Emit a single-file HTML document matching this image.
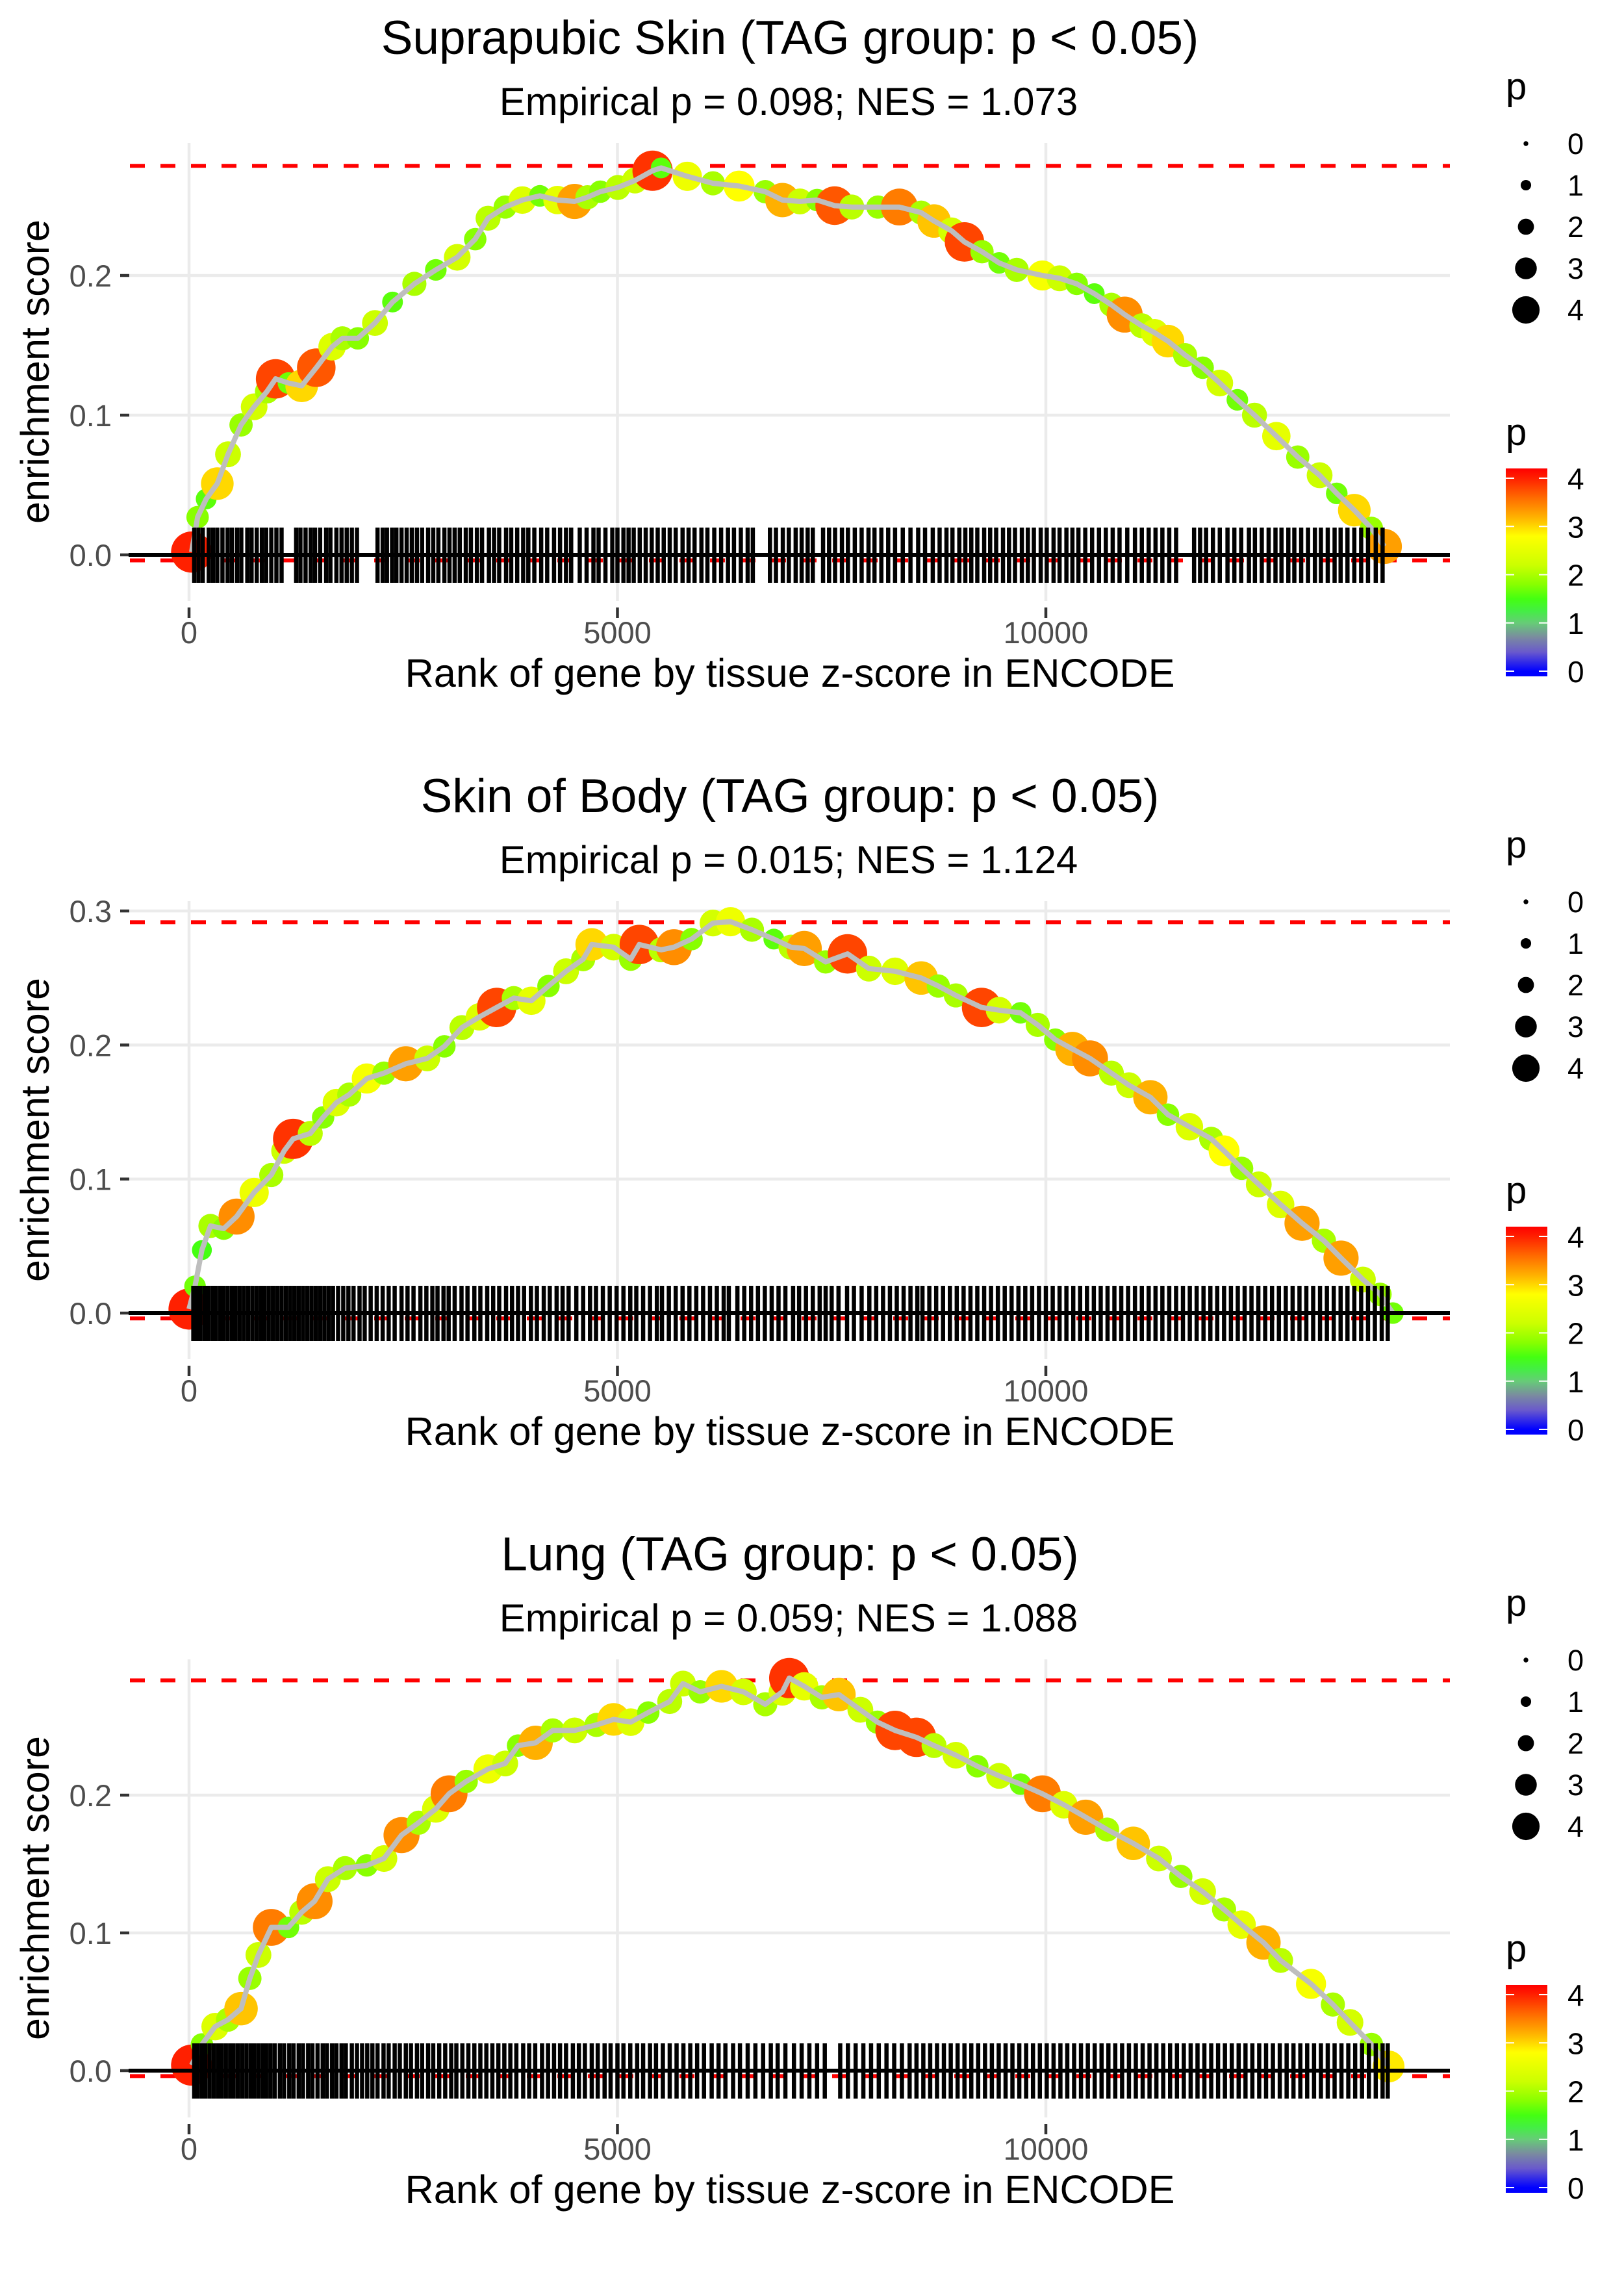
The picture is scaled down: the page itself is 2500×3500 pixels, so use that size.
<!DOCTYPE html>
<html><head><meta charset="utf-8"><title>Enrichment plots</title>
<style>html,body{margin:0;padding:0;background:#fff}svg{display:block}text{font-family:"Liberation Sans",Arial,sans-serif}</style>
</head><body>
<svg id="chart" xmlns="http://www.w3.org/2000/svg" width="2500" height="3500" viewBox="0 0 2500 3500"></svg>
<script>
// ---------- data ----------
const xTickValues = [0, 5000, 10000];
const xTickLabels = ["0", "5000", "10000"];
const legendSizeValues = [0, 1, 2, 3, 4];
const colorbarValues = [0, 1, 2, 3, 4];

const titles = ["Suprapubic Skin (TAG group: p < 0.05)", "Skin of Body (TAG group: p < 0.05)", "Lung (TAG group: p < 0.05)"];
const subtitles = ["Empirical p = 0.098; NES = 1.073", "Empirical p = 0.015; NES = 1.124", "Empirical p = 0.059; NES = 1.088"];
const maxES = [0.2785, 0.2916, 0.2833];
const minES = [-0.003, -0.003, -0.003];
const yTicks1 = [0.0, 0.1, 0.2];
const yTicks2 = [0.0, 0.1, 0.2, 0.3];
const yTicks3 = [0.0, 0.1, 0.2];

const ranks1 = [30,100,200,330,455,607,760,910,1010,1160,1315,1485,1670,1790,1970,2170,2375,2630,2880,3130,3340,3490,3690,3890,4095,4300,4500,4650,4800,5005,5205,5410,5510,5815,6115,6420,6725,6925,7130,7330,7535,7735,8040,8290,8545,8695,8900,9050,9255,9455,9660,9960,10160,10360,10565,10765,10920,11120,11270,11425,11625,11830,12030,12235,12435,12690,12940,13195,13395,13600,13800,13950];
const es1 = [0.002,0.027,0.040,0.051,0.072,0.093,0.106,0.117,0.126,0.123,0.121,0.134,0.149,0.155,0.155,0.166,0.181,0.194,0.204,0.213,0.226,0.241,0.249,0.254,0.257,0.254,0.253,0.256,0.260,0.263,0.268,0.275,0.277,0.271,0.266,0.264,0.260,0.254,0.253,0.254,0.250,0.249,0.249,0.249,0.245,0.239,0.232,0.224,0.217,0.209,0.204,0.200,0.198,0.194,0.187,0.179,0.172,0.164,0.159,0.153,0.143,0.134,0.123,0.111,0.100,0.085,0.070,0.057,0.044,0.032,0.019,0.006];
const pv1 = [4.0,1.8,1.6,3.0,2.2,1.9,2.3,2.0,3.8,1.7,3.0,3.7,2.4,2.0,1.8,2.2,1.6,2.0,1.7,2.3,1.8,2.1,1.9,2.4,1.7,2.5,3.3,2.0,1.8,2.1,2.2,3.9,1.6,2.6,2.0,2.8,1.9,3.2,2.2,1.8,3.7,2.1,1.9,3.5,2.0,3.1,2.3,3.8,1.9,1.7,2.0,2.7,2.2,1.8,1.6,2.0,3.4,2.1,2.4,3.0,2.0,1.8,2.3,1.7,2.1,2.5,1.9,2.2,1.7,3.0,1.9,3.3];
const rug1 = [60,110,160,230,280,330,390,450,500,560,610,680,730,790,850,900,960,1020,1080,1250,1300,1360,1420,1470,1530,1600,1650,1720,1780,1840,1900,1960,2200,2260,2310,2370,2420,2480,2540,2600,2660,2720,2790,2850,2910,2980,3040,3100,3160,3230,3290,3360,3420,3500,3560,3620,3700,3760,3830,3900,3960,4030,4110,4180,4260,4330,4400,4460,4560,4640,4720,4780,4860,4940,5000,5070,5130,5190,5260,5330,5400,5470,5540,5610,5680,5760,5830,5900,5980,6050,6130,6210,6290,6360,6440,6520,6580,6780,6850,6930,7000,7080,7150,7220,7280,7400,7470,7540,7620,7690,7770,7850,7930,8000,8080,8160,8240,8330,8420,8510,8590,8680,8760,8840,8910,8990,9060,9130,9200,9280,9350,9420,9500,9570,9640,9720,9790,9860,9940,10010,10090,10160,10240,10310,10380,10460,10540,10620,10700,10780,10860,10950,11040,11120,11200,11280,11360,11440,11520,11730,11800,11870,11950,12030,12120,12200,12280,12370,12440,12520,12600,12680,12750,12830,12900,12980,13060,13140,13210,13290,13370,13440,13520,13600,13680,13760,13850,13930];

const ranks2 = [0,70,150,250,405,555,760,960,1110,1215,1415,1565,1720,1870,2075,2275,2530,2780,2980,3185,3390,3590,3790,3995,4195,4400,4600,4700,4955,5155,5255,5510,5660,5865,6115,6320,6570,6825,7025,7180,7430,7685,7935,8240,8545,8745,8950,9250,9455,9705,9905,10110,10310,10515,10765,10970,11220,11425,11675,11930,12080,12285,12485,12740,12990,13245,13445,13700,13900,14050];
const es2 = [0.003,0.020,0.047,0.065,0.063,0.072,0.090,0.103,0.121,0.130,0.134,0.146,0.157,0.163,0.175,0.179,0.186,0.190,0.199,0.213,0.221,0.228,0.235,0.233,0.244,0.255,0.264,0.275,0.273,0.264,0.275,0.271,0.273,0.279,0.291,0.292,0.286,0.279,0.273,0.272,0.262,0.268,0.257,0.255,0.250,0.244,0.237,0.228,0.226,0.224,0.215,0.204,0.197,0.190,0.179,0.170,0.161,0.148,0.139,0.130,0.121,0.108,0.096,0.081,0.067,0.054,0.041,0.025,0.014,0.000];
const pv2 = [4.0,1.7,1.5,2.0,1.8,3.4,2.6,2.0,2.2,3.9,2.1,1.8,2.4,2.0,2.7,1.9,3.3,2.2,1.8,2.1,2.4,3.8,2.0,2.5,1.8,2.2,2.0,3.0,2.3,1.9,3.8,2.1,3.4,1.8,2.3,2.6,2.0,1.6,2.1,3.3,1.9,3.8,2.2,2.4,3.1,1.9,2.0,3.8,2.3,1.7,2.0,1.8,3.2,3.4,2.1,2.2,3.2,1.8,2.4,2.0,2.8,1.9,2.2,2.4,3.3,2.0,3.3,2.2,1.9,1.7];
const rug2 = [50,90,130,180,220,270,310,360,400,450,500,540,590,640,690,740,790,840,880,930,980,1030,1080,1130,1180,1230,1280,1330,1380,1430,1480,1530,1580,1630,1680,1740,1800,1860,1920,1990,2050,2120,2190,2260,2330,2400,2480,2550,2620,2700,2770,2840,2900,2970,3030,3100,3180,3250,3330,3400,3480,3550,3620,3700,3770,3840,3910,3990,4060,4140,4210,4290,4360,4430,4520,4600,4680,4750,4830,4910,4990,5070,5150,5220,5300,5380,5460,5520,5600,5680,5760,5840,5920,6000,6080,6160,6240,6300,6400,6480,6560,6640,6720,6800,6880,6960,7050,7120,7200,7280,7360,7430,7500,7580,7680,7760,7850,7940,8020,8100,8180,8260,8340,8420,8500,8560,8640,8720,8800,8880,8960,9040,9120,9200,9280,9360,9440,9520,9600,9680,9760,9840,9920,10000,10080,10160,10240,10320,10400,10480,10560,10640,10720,10800,10880,10960,11040,11120,11200,11280,11360,11440,11520,11600,11680,11760,11840,11920,12000,12080,12160,12240,12320,12400,12480,12560,12640,12720,12800,12880,12960,13040,13120,13200,13280,13360,13440,13520,13600,13680,13760,13840,13920,13990];

const ranks3 = [30,150,305,455,607,710,810,960,1160,1315,1465,1620,1820,2075,2275,2480,2680,2880,3035,3235,3490,3690,3840,4045,4245,4500,4755,4955,5155,5360,5610,5765,5965,6215,6470,6725,6925,7005,7180,7385,7585,7835,8035,8240,8490,8695,8950,9200,9455,9705,9960,10210,10465,10715,11020,11320,11575,11830,12080,12285,12540,12740,13095,13350,13550,13800,14000];
const es3 = [0.004,0.019,0.032,0.037,0.045,0.067,0.084,0.104,0.104,0.115,0.123,0.139,0.147,0.149,0.154,0.171,0.180,0.190,0.201,0.210,0.219,0.223,0.236,0.238,0.247,0.247,0.251,0.255,0.253,0.260,0.268,0.281,0.275,0.279,0.275,0.266,0.275,0.285,0.279,0.271,0.273,0.262,0.253,0.247,0.242,0.236,0.229,0.221,0.214,0.208,0.201,0.193,0.184,0.175,0.165,0.154,0.141,0.130,0.117,0.106,0.093,0.080,0.063,0.048,0.035,0.019,0.003];
const pv3 = [4.0,1.8,2.4,2.0,3.1,1.9,2.2,3.5,1.7,2.1,3.4,2.2,2.0,1.8,2.3,3.4,2.0,2.4,3.5,1.9,2.6,2.2,1.8,3.2,2.0,2.2,2.0,3.0,2.4,1.8,2.1,2.2,1.9,3.0,2.3,2.0,2.4,3.9,2.5,2.0,3.1,2.2,1.9,3.8,3.8,2.1,2.3,1.8,2.2,1.7,3.5,2.4,3.3,2.0,3.1,2.2,1.9,2.3,2.0,2.5,3.2,2.1,2.7,2.0,2.3,1.9,2.9];
const rug3 = [60,100,150,190,240,290,340,380,430,480,520,570,620,670,720,760,810,860,900,950,1000,1060,1110,1170,1220,1280,1330,1390,1440,1500,1560,1610,1670,1720,1780,1830,1900,1960,2020,2080,2140,2200,2270,2330,2400,2460,2530,2590,2660,2720,2790,2850,2920,2990,3060,3120,3190,3260,3330,3400,3470,3540,3610,3680,3750,3820,3900,3970,4040,4120,4190,4260,4330,4400,4480,4550,4620,4700,4770,4850,4920,5000,5070,5150,5230,5300,5380,5450,5530,5610,5690,5770,5850,5930,6010,6100,6180,6260,6350,6430,6520,6610,6700,6790,6870,6960,7060,7150,7240,7330,7420,7600,7690,7780,7870,7960,8050,8140,8230,8320,8410,8490,8570,8650,8730,8810,8890,8970,9050,9130,9210,9290,9370,9450,9530,9610,9690,9770,9850,9930,10010,10090,10170,10250,10330,10410,10490,10570,10650,10730,10810,10890,10970,11050,11130,11210,11290,11370,11450,11530,11610,11690,11770,11850,11930,12010,12090,12170,12250,12330,12410,12490,12570,12650,12730,12810,12890,12970,13050,13130,13210,13290,13370,13450,13530,13610,13690,13770,13850,13930,13990];

const panelRanks = [ranks1, ranks2, ranks3];
const panelES = [es1, es2, es3];
const panelP = [pv1, pv2, pv3];
const panelRug = [rug1, rug2, rug3];
const panelYTicks = [yTicks1, yTicks2, yTicks3];

// ---------- layout ----------
const NS = "http://www.w3.org/2000/svg";
const svg = document.getElementById("chart");
const PANEL_H = 1167;
const zeroYs = [854, 2021, 3187];
const pxPerTenth = [215, 206.3, 212];
const X0 = 291, XK = 0.1319;
const PLOT_L = 198, PLOT_R = 2232;
function xScale(r){ return X0 + r * XK; }
function makeY(i){ return v => zeroYs[i] - v * pxPerTenth[i] * 10; }

const colorStops = [[0,[0,0,255]],[0.4,[106,90,204]],[0.7,[122,138,160]],[1.0,[102,204,119]],[1.25,[68,238,68]],[1.5,[68,255,17]],[1.8,[136,255,0]],[2.2,[204,255,0]],[2.8,[255,255,0]],[3.2,[255,176,0]],[3.6,[255,106,0]],[4.0,[255,32,0]],[4.2,[255,0,0]]];
function pColor(p){
  if (p <= colorStops[0][0]) return "rgb(" + colorStops[0][1].join(",") + ")";
  for (let k = 1; k < colorStops.length; k++){
    if (p <= colorStops[k][0]){
      const a = colorStops[k-1], b = colorStops[k], t = (p - a[0]) / (b[0] - a[0]);
      const c = a[1].map((v, j) => Math.round(v + (b[1][j] - v) * t));
      return "rgb(" + c.join(",") + ")";
    }
  }
  return "rgb(255,0,0)";
}
function pRadius(p){ return 3.7 + 4.35 * p; }

function el(tag, attrs, parent){
  const e = document.createElementNS(NS, tag);
  for (const k in attrs) e.setAttribute(k, attrs[k]);
  (parent || svg).appendChild(e);
  return e;
}
function txt(s, attrs, parent){ const t = el("text", attrs, parent); t.textContent = s; return t; }

const defs = el("defs", {});
const grad = el("linearGradient", {id: "pgrad", x1: "0", y1: "1", x2: "0", y2: "0"}, defs);
const cbTop = 721, cbBot = 1041, cbV0 = 1033, cbUnit = 74.25;
for (let k = 0; k < colorStops.length; k++){
  const v = colorStops[k][0];
  const y = cbV0 - v * cbUnit;
  const off = (cbBot - y) / (cbBot - cbTop);
  el("stop", {offset: Math.max(0, Math.min(1, off)).toFixed(4), "stop-color": "rgb(" + colorStops[k][1].join(",") + ")"}, grad);
}

for (let i = 0; i < 3; i++){
  const oy = i * PANEL_H;
  const yS = makeY(i);
  const g = el("g", {});
  
  

  const t = txt(titles[i], {x: 1216, y: 83 + oy, "text-anchor": "middle", "font-size": 73, fill: "#000"}, g);
  
  
  const st = txt(subtitles[i], {x: 1214, y: 177 + oy, "text-anchor": "middle", "font-size": 60, fill: "#000"}, g);
  
  

  const yt = panelYTicks[i];
  for (let k = 0; k < yt.length; k++){
    const y = yS(yt[k]);
    const gl = el("line", {x1: PLOT_L, x2: PLOT_R, y1: y, y2: y, stroke: "#ebebeb", "stroke-width": 4.5}, g);
    
    
    const tk = el("line", {x1: 185, x2: 199, y1: y, y2: y, stroke: "#333", "stroke-width": 4.5}, g);
    
    
    const tl = txt(yt[k].toFixed(1), {x: 172, y: y + 17, "text-anchor": "end", "font-size": 47, fill: "#4d4d4d"}, g);
    
    
  }
  for (let k = 0; k < xTickValues.length; k++){
    const x = xScale(xTickValues[k]);
    const gl = el("line", {x1: x, x2: x, y1: 220 + oy, y2: 925 + oy, stroke: "#ebebeb", "stroke-width": 4.5}, g);
    
    
    const tk = el("line", {x1: x, x2: x, y1: 935 + oy, y2: 951 + oy, stroke: "#333", "stroke-width": 4.5}, g);
    
    
    const tl = txt(xTickLabels[k], {x: x, y: 990 + oy, "text-anchor": "middle", "font-size": 47, fill: "#4d4d4d"}, g);
    
    
  }

  const xt = txt("Rank of gene by tissue z-score in ENCODE", {x: 1216, y: 1057 + oy, "text-anchor": "middle", "font-size": 61, fill: "#000", textLength: 1185, lengthAdjust: "spacingAndGlyphs"}, g);
  
  
  const ytl = txt("enrichment score", {x: 0, y: 0, "text-anchor": "middle", "font-size": 61, fill: "#000", transform: "translate(75," + (572 + oy) + ") rotate(-90)"}, g);
  
  

  const dTop = el("line", {x1: 200, x2: PLOT_R, y1: yS(maxES[i]), y2: yS(maxES[i]), stroke: "#ff0000", "stroke-width": 6, "stroke-dasharray": "23 24"}, g);
  
  
  const dBot = el("line", {x1: 200, x2: PLOT_R, y1: yS(minES[i]) + 2, y2: yS(minES[i]) + 2, stroke: "#ff0000", "stroke-width": 6, "stroke-dasharray": "23 24"}, g);
  
  

  const rk = panelRanks[i], es = panelES[i], pv = panelP[i];
  for (let k = 0; k < rk.length; k++){
    const c = el("circle", {cx: xScale(rk[k]), cy: yS(es[k]), r: pRadius(pv[k]) * 1.5, fill: pColor(pv[k])}, g);
    
    
  }
  let d = "";
  for (let k = 0; k < rk.length; k++) d += (k ? "L" : "M") + xScale(rk[k]).toFixed(1) + "," + yS(es[k]).toFixed(1);
  const ln = el("path", {d: d, fill: "none", stroke: "#bebebe", "stroke-width": 8, "stroke-linejoin": "round"}, g);
  
  

  const rug = panelRug[i];
  const rg = el("g", {}, g);
  
  
  for (let k = 0; k < rug.length; k++){
    const x = xScale(rug[k]);
    const rl = el("line", {x1: x, x2: x, y1: zeroYs[i] - 42, y2: zeroYs[i] + 43, stroke: "#000", "stroke-width": 6.5}, rg);
    
    
  }
  const zl = el("line", {x1: PLOT_L, x2: PLOT_R, y1: zeroYs[i], y2: zeroYs[i], stroke: "#000", "stroke-width": 6}, g);
  
  

  const sl = el("g", {}, g);
  
  
  const slt = txt("p", {x: 2318, y: 153 + oy, "font-size": 58, fill: "#000"}, sl);
  
  
  for (let k = 0; k < legendSizeValues.length; k++){
    const y = 221 + oy + k * 64;
    const dot = el("circle", {cx: 2349, cy: y, r: pRadius(legendSizeValues[k]), fill: "#000"}, sl);
    
    
    const lt = txt(String(legendSizeValues[k]), {x: 2413, y: y + 16, "font-size": 45, fill: "#000"}, sl);
    
    
  }

  const cl = el("g", {}, g);
  
  
  const clt = txt("p", {x: 2318, y: 685 + oy, "font-size": 58, fill: "#000"}, cl);
  
  
  const bar = el("rect", {x: 2318, y: cbTop + oy, width: 64, height: cbBot - cbTop, fill: "url(#pgrad)"}, cl);
  
  
  for (let k = 0; k < colorbarValues.length; k++){
    const y = cbV0 + oy - colorbarValues[k] * cbUnit;
    el("line", {x1: 2318, x2: 2331, y1: y, y2: y, stroke: "#fff", "stroke-width": 2}, cl);
    el("line", {x1: 2369, x2: 2382, y1: y, y2: y, stroke: "#fff", "stroke-width": 2}, cl);
    const lt = txt(String(colorbarValues[k]), {x: 2413, y: y + 17, "font-size": 46, fill: "#000"}, cl);
    
    
  }
}
</script>
</body></html>
